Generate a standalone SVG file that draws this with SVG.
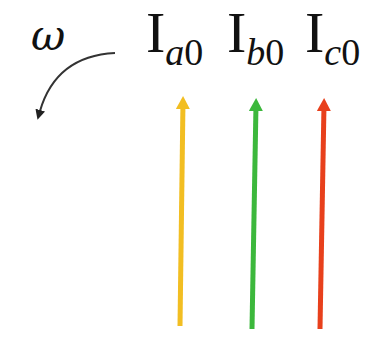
<svg xmlns="http://www.w3.org/2000/svg" width="376" height="339" viewBox="0 0 376 339">
<defs>
<style>
.lbl{font-family:"Liberation Serif","Times New Roman",serif;fill:#111}
.sub{font-size:38px}
.it{font-style:italic}
.om{font-family:"DejaVu Serif",serif;font-style:italic;fill:#111}
.ph{stroke-width:5;fill:none;stroke-linecap:butt}
</style>
<marker id="hy" markerUnits="userSpaceOnUse" viewBox="0 0 14 14" refX="1" refY="7" markerWidth="14" markerHeight="14" orient="auto"><path d="M0,0 L13,7 L0,14 z" fill="#F2BE22"/></marker>
<marker id="hg" markerUnits="userSpaceOnUse" viewBox="0 0 14 14" refX="1" refY="7" markerWidth="14" markerHeight="14" orient="auto"><path d="M0,0 L13,7 L0,14 z" fill="#3CB83C"/></marker>
<marker id="hr" markerUnits="userSpaceOnUse" viewBox="0 0 14 14" refX="1" refY="7" markerWidth="14" markerHeight="14" orient="auto"><path d="M0,0 L13,7 L0,14 z" fill="#E8401C"/></marker>
<marker id="hk" markerUnits="userSpaceOnUse" viewBox="0 0 10 10" refX="1" refY="5" markerWidth="10" markerHeight="10" orient="auto"><path d="M0,0 L10,5 L0,10 z" fill="#222"/></marker>
</defs>
<rect width="376" height="339" fill="#fff"/>
<g id="omega"><text class="om" x="31" y="50" font-size="42">ω</text></g>
<g id="Ia0"><text class="lbl" x="146" y="52" font-size="58">I<tspan class="sub" dy="13"><tspan class="it">a</tspan>0</tspan></text></g>
<g id="Ib0"><text class="lbl" x="227" y="52" font-size="58">I<tspan class="sub" dy="13"><tspan class="it">b</tspan>0</tspan></text></g>
<g id="Ic0"><text class="lbl" x="305" y="52" font-size="58">I<tspan class="sub" dy="13"><tspan class="it">c</tspan>0</tspan></text></g>
<g id="connectors">
<path d="M115,53 Q56,56 40,111" fill="none" stroke="#333" stroke-width="2" marker-end="url(#hk)"/>
<line class="ph" x1="180" y1="326" x2="182.9" y2="108" stroke="#F2BE22" marker-end="url(#hy)"/>
<line class="ph" x1="252" y1="329" x2="255.9" y2="110" stroke="#3CB83C" marker-end="url(#hg)"/>
<line class="ph" x1="320" y1="329" x2="323.9" y2="110" stroke="#E8401C" marker-end="url(#hr)"/>
</g>
</svg>
